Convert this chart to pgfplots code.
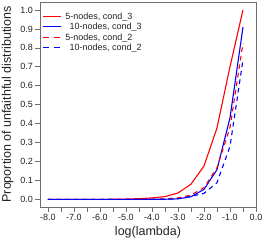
\documentclass[border=0pt]{standalone}
\usepackage{pgfplots}
\pgfplotsset{compat=1.18}
\usepackage{fontspec}
\setmainfont{Liberation Sans}
\definecolor{rred}{RGB}{255,0,0}
\definecolor{rblue}{RGB}{0,0,255}
\definecolor{boxgray}{RGB}{110,110,110}
\definecolor{txt}{RGB}{35,35,35}
\newcommand{\lf}{\fontsize{9}{10}\selectfont}
\tikzset{legnode/.style={anchor=west, font=\lf, text=txt, inner sep=0pt, text height=6.4pt, text depth=0pt}}
\begin{document}
\begin{tikzpicture}
\path[use as bounding box] (-40pt,-37pt) rectangle (224pt,207pt);
\begin{axis}[
  at={(0,0)}, anchor=south west,
  scale only axis, width=216pt, height=205pt,
  xmin=-8.3, xmax=0, ymin=-0.04, ymax=1.042,
  axis line style={boxgray, line width=0.8pt},
  xtick={-8,-7,...,0}, minor xtick={-7.5,-6.5,...,-0.5},
  ytick={0,0.1,...,1.0},
  tick align=outside, tick pos=left,
  major tick length=4.5pt, minor tick length=4.5pt,
  every tick/.style={boxgray, line width=0.6pt},
  xticklabel style={yshift=0.5pt, /pgf/number format/.cd, fixed, fixed zerofill, precision=1},
  yticklabel style={xshift=1pt, /pgf/number format/.cd, fixed, fixed zerofill, precision=1},
  /pgf/number format/assume math mode=true,
  tick label style={font=\fontsize{9}{10}\selectfont, text=txt},
  xlabel={log(lambda)}, ylabel={Proportion of unfaithful distributions},
  xlabel style={font=\fontsize{12.5}{14}\selectfont, text=txt, yshift=1pt},
  ylabel style={font=\fontsize{12.5}{14}\selectfont, text=txt, yshift=0pt},
]
% curves
\addplot[rred, no marks, line width=1.1pt] coordinates {
(-8,0) (-7.5,0) (-7,0) (-6.5,0) (-6,0) (-5.5,0.001) (-5,0.002) (-4.5,0.004) (-4,0.008) (-3.5,0.015) (-3,0.034) (-2.5,0.08) (-2,0.176) (-1.5,0.377) (-1,0.70) (-0.5,1.0)};
\addplot[rblue, no marks, line width=1.1pt] coordinates {
(-8,0) (-7.5,0) (-7,0) (-6.5,0) (-6,0) (-5.5,0) (-5,0) (-4.5,0) (-4,0.001) (-3.5,0.001) (-3,0.003) (-2.5,0.014) (-2,0.053) (-1.5,0.157) (-1,0.43) (-0.5,0.909)};
\addplot[rred, no marks, line width=1.1pt, dash pattern=on 4.6pt off 4pt] coordinates {
(-8,0) (-7.5,0) (-7,0) (-6.5,0) (-6,0) (-5.5,0) (-5,0) (-4.5,0) (-4,0.001) (-3.5,0.003) (-3,0.008) (-2.5,0.023) (-2,0.062) (-1.5,0.167) (-1,0.38) (-0.5,0.825)};
\addplot[rblue, no marks, line width=1.1pt, dash pattern=on 4.6pt off 4pt] coordinates {
(-8,0) (-7.5,0) (-7,0) (-6.5,0) (-6,0) (-5.5,0) (-5,0) (-4.5,0) (-4,0) (-3.5,0.001) (-3,0.004) (-2.5,0.016) (-2,0.032) (-1.5,0.088) (-1,0.28) (-0.5,0.737)};
% legend samples
\addplot[rred, no marks, line width=1.1pt] coordinates {(-8.169,0.965) (-7.501,0.965)};
\addplot[rblue, no marks, line width=1.1pt] coordinates {(-8.169,0.912) (-7.501,0.912)};
\addplot[rred, no marks, line width=1.1pt, dash pattern=on 5.6pt off 5pt] coordinates {(-8.169,0.856) (-7.501,0.856)};
\addplot[rblue, no marks, line width=1.1pt, dash pattern=on 5.6pt off 5pt] coordinates {(-8.169,0.802) (-7.501,0.802)};
\node[legnode] at (axis cs:-7.336,0.965) {5-nodes, cond\_3};
\node[legnode] at (axis cs:-7.17,0.912) {10-nodes, cond\_3};
\node[legnode] at (axis cs:-7.336,0.856) {5-nodes, cond\_2};
\node[legnode] at (axis cs:-7.17,0.802) {10-nodes, cond\_2};
\end{axis}
\end{tikzpicture}
\end{document}
